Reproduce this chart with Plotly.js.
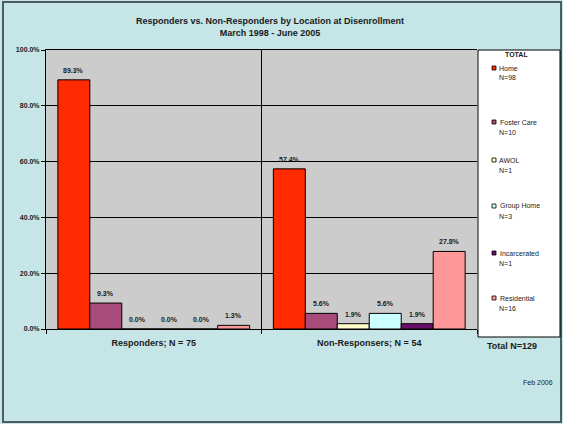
<!DOCTYPE html>
<html>
<head>
<meta charset="utf-8">
<script src="https://cdn.plot.ly/plotly-3.0.1.min.js"></script>
<style>
  html, body { margin: 0; padding: 0; background: #C6E5E7; }
  #chart { width: 563px; height: 424px; }
</style>
</head>
<body>
<div id="chart"></div>
<script>
// Groups along the x axis
const groups = ['Responders; N = 75', 'Non-Responsers; N = 54'];

// Location at disenrollment (one bar per location in each group)
const locations = ['Home', 'Foster Care', 'AWOL', 'Group Home', 'Incarcerated', 'Residential'];
const locationTotals = [98, 10, 1, 3, 1, 16];
const totalN = 129;

// Percent of each group, per location
const home         = [89.3, 57.4];
const fosterCare   = [9.3, 5.6];
const awol         = [0.0, 1.9];
const groupHome    = [0.0, 5.6];
const incarcerated = [0.0, 1.9];
const residential  = [1.3, 27.8];

const yTicks = [0, 20, 40, 60, 80, 100];

const series = [home, fosterCare, awol, groupHome, incarcerated, residential];
const colors = ['#FF2A00', '#A84A7A', '#FFFFCC', '#CCFFFF', '#6A0F6A', '#FF9999'];

const FONT = 'Liberation Sans, Arial, sans-serif';
const INK = '#1a1a1a';

// Plot-area geometry in pixels, used to place the side panel in paper units
const L = 46, R = 477, T = 50, B = 329;
const W = 563, H = 424;
const px = x => (x - L) / (R - L);
const py = y => (B - y) / (B - T);

const BARGAP = 0.11;
// Width of one bar in pixels: each category gets (R-L)/n, minus the gap, split over the series
const barPx = (R - L) / groups.length * (1 - BARGAP) / series.length;

const traces = series.map((vals, i) => ({
  type: 'bar',
  name: locations[i],
  x: groups,
  y: vals,
  marker: { color: colors[i], line: { color: '#000', width: 1 } },
  hoverinfo: 'skip',
  showlegend: false
}));

const shapes = [
  // outer frame
  { type: 'rect', xref: 'paper', yref: 'paper',
    x0: px(3), x1: px(561), y0: py(422), y1: py(2),
    line: { color: '#4d5c5c', width: 2 }, fillcolor: 'rgba(0,0,0,0)', layer: 'below' },
  // key box
  { type: 'rect', xref: 'paper', yref: 'paper',
    x0: px(478), x1: px(560), y0: py(337), y1: py(50),
    line: { color: '#000', width: 1 }, fillcolor: '#FFFFFF' }
];

// Value labels above each bar, positioned on the data axes
const annotations = [];
series.forEach((vals, i) => {
  vals.forEach((v, j) => {
    annotations.push({
      xref: 'x', yref: 'y', x: groups[j], y: v,
      xshift: (i - (series.length - 1) / 2) * barPx,
      yshift: 4, yanchor: 'bottom', xanchor: 'center',
      text: '<b>' + v.toFixed(1) + '%</b>', showarrow: false,
      font: { family: FONT, size: 7, color: INK }
    });
  });
});

// Side panel ("TOTAL" key)
const keyRows = [68, 122, 160, 206, 253, 298];
annotations.push({ xref: 'paper', yref: 'paper', x: px(516), y: py(55), text: '<b>TOTAL</b>',
  showarrow: false, xanchor: 'center', yanchor: 'middle',
  font: { family: FONT, size: 7, color: INK } });
locations.forEach((name, i) => {
  const yc = keyRows[i];
  shapes.push({ type: 'rect', xref: 'paper', yref: 'paper',
    x0: px(492), x1: px(496), y0: py(yc + 2), y1: py(yc - 2),
    line: { color: '#000', width: 0.8 }, fillcolor: colors[i] });
  annotations.push({ xref: 'paper', yref: 'paper', x: px(497.5), y: py(yc),
    text: name, showarrow: false, xanchor: 'left', yanchor: 'middle',
    font: { family: FONT, size: 7, color: INK } });
  annotations.push({ xref: 'paper', yref: 'paper', x: px(497.5), y: py(yc + 10),
    text: 'N=' + locationTotals[i], showarrow: false, xanchor: 'left', yanchor: 'middle',
    font: { family: FONT, size: 7, color: INK } });
});
annotations.push({ xref: 'paper', yref: 'paper', x: px(512), y: py(346),
  text: '<b>Total N=' + totalN + '</b>', showarrow: false, xanchor: 'center', yanchor: 'middle',
  font: { family: FONT, size: 9, color: INK } });
annotations.push({ xref: 'paper', yref: 'paper', x: px(555), y: py(382),
  text: 'Feb 2006', showarrow: false, xanchor: 'right', yanchor: 'middle',
  font: { family: FONT, size: 7, color: INK } });

const layout = {
  width: W, height: H,
  margin: { l: L, r: W - R, t: T, b: H - B, pad: 0 },
  paper_bgcolor: '#C6E5E7',
  plot_bgcolor: '#CCCCCC',
  font: { family: FONT, color: INK },
  title: {
    text: '<b>Responders vs. Non-Responders by Location at Disenrollment<br>March 1998 - June 2005</b>',
    font: { family: FONT, size: 9, color: INK },
    x: px(270), xref: 'paper', xanchor: 'center',
    y: 1 - 24 / H, yanchor: 'top'
  },
  barmode: 'group',
  bargap: BARGAP,
  bargroupgap: 0,
  xaxis: {
    type: 'category',
    tickson: 'boundaries',
    showgrid: true, gridcolor: '#000', gridwidth: 1,
    showline: true, linecolor: '#000', linewidth: 1, mirror: true,
    ticks: 'outside', ticklen: 4, tickcolor: '#000',
    ticklabelstandoff: 5,
    tickfont: { family: FONT, size: 9, color: INK, weight: 'bold' },
    fixedrange: true
  },
  yaxis: {
    range: [0, 100],
    tickvals: yTicks,
    ticktext: yTicks.map(v => v.toFixed(1) + '%'),
    showgrid: true, gridcolor: '#000', gridwidth: 1,
    showline: true, linecolor: '#000', linewidth: 1,
    ticks: 'outside', ticklen: 4, tickcolor: '#000',
    tickfont: { family: FONT, size: 7, color: INK, weight: 'bold' },
    zeroline: false,
    fixedrange: true
  },
  shapes: shapes,
  annotations: annotations,
  showlegend: false
};

Plotly.newPlot('chart', traces, layout, { displayModeBar: false, staticPlot: true });
</script>
</body>
</html>
